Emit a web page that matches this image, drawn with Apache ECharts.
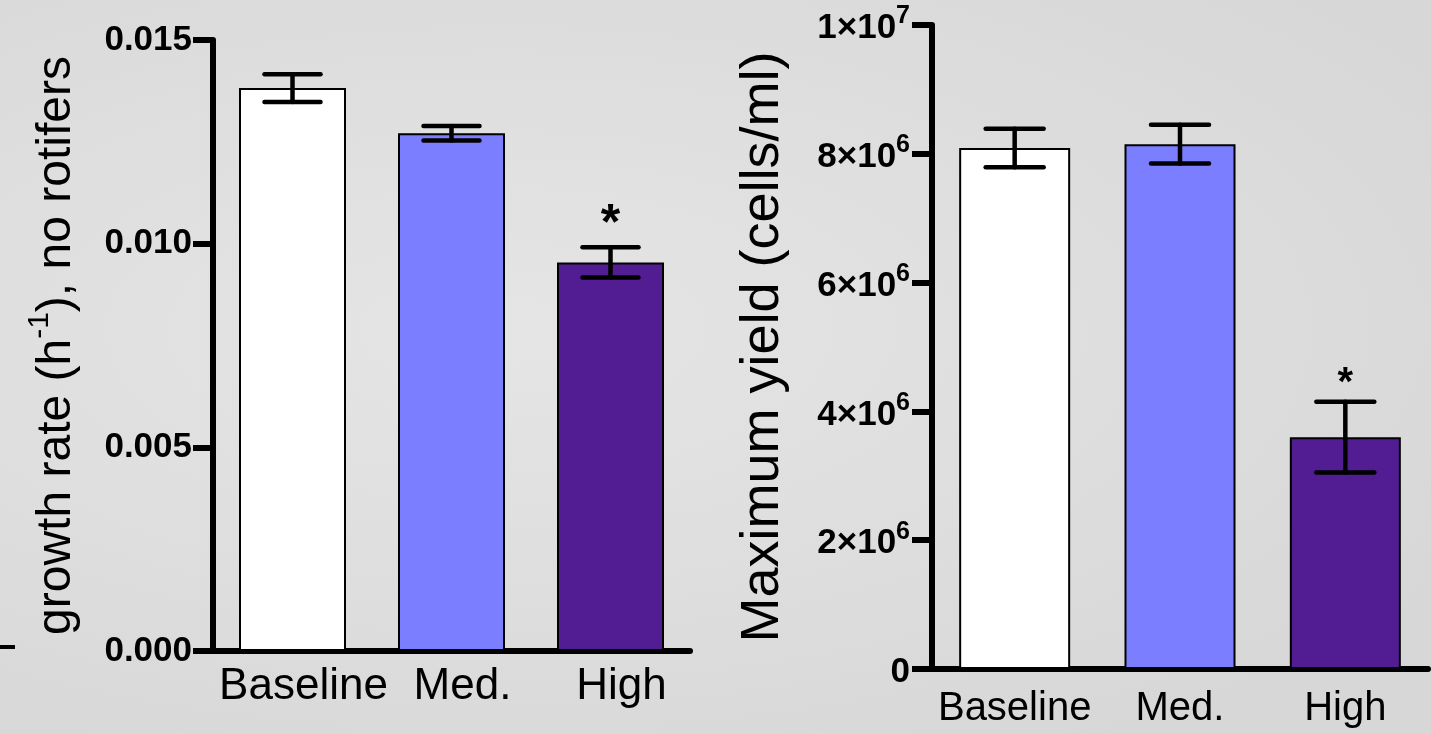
<!DOCTYPE html>
<html>
<head>
<meta charset="utf-8">
<script src="https://cdn.jsdelivr.net/npm/echarts@6/dist/echarts.min.js"></script>
<style>
  html, body { margin: 0; padding: 0; }
  #chart {
    width: 1431px;
    height: 734px;
    background: radial-gradient(ellipse at 35% 45%, #e5e5e5 0%, #dedede 45%, #d7d7d7 85%);
  }
</style>
</head>
<body>
<div id="chart"></div>
<script>
// categories shared by both panels
var categories = ['Baseline', 'Med.', 'High'];

// left panel: growth rate (h-1), no rotifers
var growthRate = [0.01382, 0.01271, 0.00954];
var growthErr = [0.00034, 0.00018, 0.00037];
var growthTicks = [0, 0.005, 0.010, 0.015];

// right panel: maximum yield (cells/ml)
var maxYield = [8.09e6, 8.15e6, 3.60e6];
var yieldErr = [0.30e6, 0.30e6, 0.55e6];
var yieldTicks = [0, 2e6, 4e6, 6e6, 8e6, 1e7];

// significance markers
var stars = ['', '', '*'];

var barColors = ['#ffffff', '#7b7fff', '#521c93'];
var FONT = '"Liberation Sans", Arial, Helvetica, sans-serif';

var chart = echarts.init(document.getElementById('chart'));

function barData(values) {
  return values.map(function (v, i) {
    return { value: v, itemStyle: { color: barColors[i] } };
  });
}

function errData(values, errs) {
  return values.map(function (v, i) {
    return [i, v, errs[i]];
  });
}

// error bars + asterisk
function errRenderer(capHalf, starSize, starGap) {
  return function (params, api) {
    var idx = api.value(0);
    var val = api.value(1);
    var err = api.value(2);
    var star = stars[params.dataIndex];
    var x = api.coord([idx, val])[0];
    var yTop = api.coord([idx, val + err])[1];
    var yBot = api.coord([idx, val - err])[1];
    var ls = { stroke: '#000', lineWidth: 4.5, lineCap: 'round' };
    var children = [
      { type: 'line', shape: { x1: x, y1: yTop, x2: x, y2: yBot }, style: ls },
      { type: 'line', shape: { x1: x - capHalf, y1: yTop, x2: x + capHalf, y2: yTop }, style: ls },
      { type: 'line', shape: { x1: x - capHalf, y1: yBot, x2: x + capHalf, y2: yBot }, style: ls }
    ];
    if (star) {
      children.push({
        type: 'text',
        style: {
          text: star, x: x, y: yTop - starGap,
          fill: '#000', font: 'bold ' + starSize + 'px ' + FONT,
          align: 'center', verticalAlign: 'middle'
        }
      });
    }
    return { type: 'group', children: children };
  };
}

var axisLineStyle = { color: '#000', width: 6 };

var option = {
  animation: false,
  backgroundColor: 'transparent',
  textStyle: { fontFamily: FONT },
  graphic: [
    { type: 'rect', shape: { x: 0, y: 645, width: 15, height: 4 }, style: { fill: '#000' } }
  ],
  grid: [
    { left: 213, top: 40, width: 477, height: 611 },
    { left: 932, top: 25, width: 496, height: 644 }
  ],
  xAxis: [
    {
      gridIndex: 0, type: 'category', data: categories,
      axisLine: { lineStyle: axisLineStyle },
      axisTick: { show: false },
      axisLabel: { interval: 0, color: '#000', fontSize: 44, fontFamily: FONT, margin: 14, padding: [0, 0, 0, 22] }
    },
    {
      gridIndex: 1, type: 'category', data: categories,
      axisLine: { lineStyle: axisLineStyle },
      axisTick: { show: false },
      axisLabel: { interval: 0, color: '#000', fontSize: 40, fontFamily: FONT, margin: 20 }
    }
  ],
  yAxis: [
    {
      gridIndex: 0, type: 'value',
      min: growthTicks[0], max: growthTicks[growthTicks.length - 1], interval: growthTicks[1] - growthTicks[0],
      splitLine: { show: false },
      axisLine: { show: true, lineStyle: axisLineStyle },
      axisTick: { show: true, length: 20, lineStyle: { color: '#000', width: 6 } },
      axisLabel: {
        color: '#000', fontSize: 35, fontWeight: 'bold', fontFamily: FONT, margin: 21,
        formatter: function (v) { return v.toFixed(3); }
      },
      name: '{n|growth rate (h}{s|-1}{n|), no rotifers}',
      nameLocation: 'middle', nameGap: 132, nameRotate: 90,
      nameTextStyle: {
        rich: {
          n: { fontSize: 48, fontFamily: FONT, color: '#000', lineHeight: 56, verticalAlign: 'bottom' },
          s: { fontSize: 30, fontFamily: FONT, color: '#000', lineHeight: 56, verticalAlign: 'top' }
        }
      }
    },
    {
      gridIndex: 1, type: 'value',
      min: yieldTicks[0], max: yieldTicks[yieldTicks.length - 1], interval: yieldTicks[1] - yieldTicks[0],
      splitLine: { show: false },
      axisLine: { show: true, lineStyle: axisLineStyle },
      axisTick: { show: true, length: 20, lineStyle: { color: '#000', width: 6 } },
      axisLabel: {
        margin: 22,
        formatter: function (v) {
          if (v === 0) return '{a|0}';
          var e = Math.floor(Math.log10(v) + 1e-9);
          var m = Math.round(v / Math.pow(10, e));
          return '{a|' + m + '×10}{b|' + e + '}';
        },
        rich: {
          a: { fontSize: 35, fontWeight: 'bold', fontFamily: FONT, color: '#000', lineHeight: 42, verticalAlign: 'bottom' },
          b: { fontSize: 25, fontWeight: 'bold', fontFamily: FONT, color: '#000', lineHeight: 24, verticalAlign: 'top' }
        }
      },
      name: 'Maximum yield (cells/ml)',
      nameLocation: 'middle', nameGap: 142, nameRotate: 90,
      nameTextStyle: { fontSize: 54, fontFamily: FONT, color: '#000' }
    }
  ],
  series: [
    {
      type: 'bar', xAxisIndex: 0, yAxisIndex: 0, data: barData(growthRate),
      barWidth: 107, itemStyle: { borderColor: '#000', borderWidth: 2 }
    },
    {
      type: 'custom', xAxisIndex: 0, yAxisIndex: 0, data: errData(growthRate, growthErr),
      renderItem: errRenderer(28, 50, 22), z: 5
    },
    {
      type: 'bar', xAxisIndex: 1, yAxisIndex: 1, data: barData(maxYield),
      barWidth: 111, itemStyle: { borderColor: '#000', borderWidth: 2 }
    },
    {
      type: 'custom', xAxisIndex: 1, yAxisIndex: 1, data: errData(maxYield, yieldErr),
      renderItem: errRenderer(29, 40, 18), z: 5
    }
  ]
};

chart.setOption(option);
</script>
</body>
</html>
